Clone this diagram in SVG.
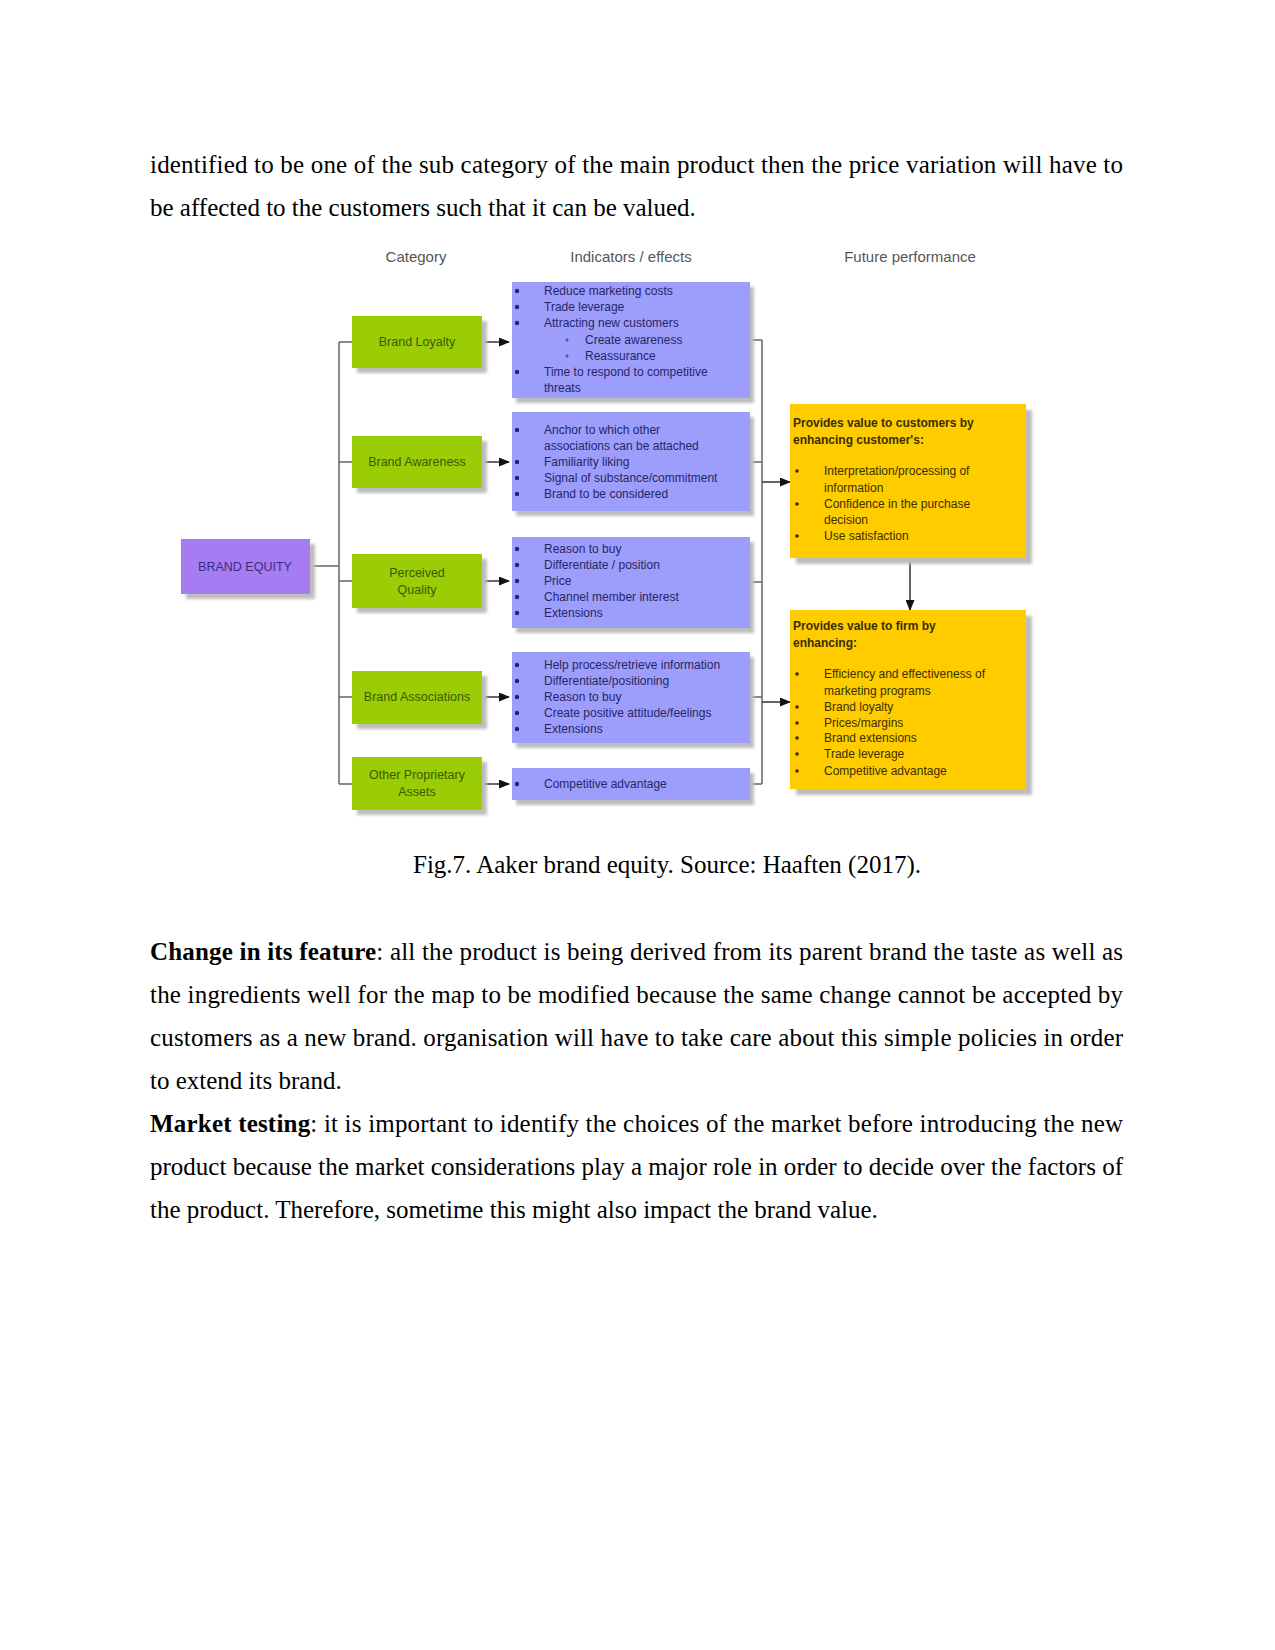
<svg xmlns="http://www.w3.org/2000/svg" width="1275" height="1650" viewBox="0 0 1275 1650">
<style>
.body{font-family:"Liberation Serif",serif;font-size:25px;fill:#000}
.b{font-weight:bold}
.hdr{font-family:"Liberation Sans",Arial,sans-serif;font-size:15px;fill:#555;text-anchor:middle}
.gt{font-family:"Liberation Sans",Arial,sans-serif;font-size:12.5px;fill:#3d5a00;text-anchor:middle}
.bt{font-family:"Liberation Sans",Arial,sans-serif;font-size:12px;fill:#262666}
.yt{font-family:"Liberation Sans",Arial,sans-serif;font-size:12px;fill:#3a2f00}
.yb{font-weight:bold}
.et{font-family:"Liberation Sans",Arial,sans-serif;font-size:12.5px;fill:#3a2d80;text-anchor:middle}
.sh{fill:#bdbdbd;filter:url(#blur)}
.green{fill:#9acd06}
.blue{fill:#9d9dfb}
.yellow{fill:#ffcc00}
.purple{fill:#a57cf2}
.ln{fill:none;stroke:#666;stroke-width:1.5}
.ar{fill:none;stroke:#333;stroke-width:1.5;marker-end:url(#ah)}
.bd{fill:#262666}
.yd{fill:#3a2f00}
</style>
<defs>
<filter id="blur" x="-10%" y="-10%" width="120%" height="120%"><feGaussianBlur stdDeviation="1.5"/></filter>
<marker id="ah" markerUnits="userSpaceOnUse" markerWidth="11" markerHeight="9" refX="10" refY="4.5" orient="auto"><path d="M0,0 L11,4.5 L0,9 z" fill="#111"/></marker>
</defs>
<rect width="1275" height="1650" fill="#fff"/>

<g id="text-top">
<text class="body" x="150" y="173" textLength="973" lengthAdjust="spacing">identified to be one of the sub category of the main product then the price variation will have to</text>
<text class="body" x="150" y="216">be affected to the customers such that it can be valued.</text>
</g>

<g id="headers">
<text class="hdr" x="416" y="262">Category</text>
<text class="hdr" x="631" y="262">Indicators / effects</text>
<text class="hdr" x="910" y="262">Future performance</text>
</g>

<g id="connectors">
<path class="ln" d="M310,566 H339 M339,342 V784 M339,342 H352 M339,462 H352 M339,581 H352 M339,697 H352 M339,784 H352"/>
<path class="ar" d="M482,342 H509"/>
<path class="ar" d="M482,462 H509"/>
<path class="ar" d="M482,581 H509"/>
<path class="ar" d="M482,697 H509"/>
<path class="ar" d="M482,784 H509"/>
<path class="ln" d="M750,340 H762 M750,462 H762 M750,582 H762 M750,697 H762 M750,784 H762 M762,340 V784"/>
<path class="ar" d="M762,482 H790"/>
<path class="ar" d="M762,702 H790"/>
<path class="ar" d="M910,558 V610"/>
</g>

<g id="brand-equity">
<rect class="sh" x="186" y="544" width="129" height="55"/>
<rect class="purple" x="181" y="539" width="129" height="55"/>
<text class="et" x="245" y="571">BRAND EQUITY</text>
</g>

<g id="brand-loyalty">
<rect class="sh" x="357" y="321" width="130" height="52"/>
<rect class="green" x="352" y="316" width="130" height="52"/>
<text class="gt" x="417" y="346">Brand Loyalty</text>
</g>
<g id="brand-awareness">
<rect class="sh" x="357" y="441" width="130" height="52"/>
<rect class="green" x="352" y="436" width="130" height="52"/>
<text class="gt" x="417" y="466">Brand Awareness</text>
</g>
<g id="perceived-quality">
<rect class="sh" x="357" y="559" width="130" height="54"/>
<rect class="green" x="352" y="554" width="130" height="54"/>
<text class="gt" x="417" y="577">Perceived</text>
<text class="gt" x="417" y="594">Quality</text>
</g>
<g id="brand-associations">
<rect class="sh" x="357" y="676" width="130" height="53"/>
<rect class="green" x="352" y="671" width="130" height="53"/>
<text class="gt" x="417" y="701">Brand Associations</text>
</g>
<g id="other-assets">
<rect class="sh" x="357" y="762" width="130" height="53"/>
<rect class="green" x="352" y="757" width="130" height="53"/>
<text class="gt" x="417" y="779">Other Proprietary</text>
<text class="gt" x="417" y="796">Assets</text>
</g>

<g id="ind-loyalty">
<rect class="sh" x="516" y="287" width="238" height="116"/>
<rect class="blue" x="512" y="282" width="238" height="116"/>
<g class="bd"><circle cx="517" cy="291" r="2.2"/><circle cx="517" cy="307" r="2.2"/><circle cx="517" cy="323" r="2.2"/><circle cx="517" cy="372" r="2.2"/></g>
<g fill="#55558a"><circle cx="567" cy="340" r="1.5"/><circle cx="567" cy="356" r="1.5"/></g>
<text class="bt" x="544" y="295">Reduce marketing costs</text>
<text class="bt" x="544" y="311">Trade leverage</text>
<text class="bt" x="544" y="327">Attracting new customers</text>
<text class="bt" x="585" y="344">Create awareness</text>
<text class="bt" x="585" y="360">Reassurance</text>
<text class="bt" x="544" y="376">Time to respond to competitive</text>
<text class="bt" x="544" y="392">threats</text>
</g>

<g id="ind-awareness">
<rect class="sh" x="516" y="417" width="238" height="99"/>
<rect class="blue" x="512" y="412" width="238" height="99"/>
<g class="bd"><circle cx="517" cy="430" r="2.2"/><circle cx="517" cy="462" r="2.2"/><circle cx="517" cy="478" r="2.2"/><circle cx="517" cy="494" r="2.2"/></g>
<text class="bt" x="544" y="434">Anchor to which other</text>
<text class="bt" x="544" y="450">associations can be attached</text>
<text class="bt" x="544" y="466">Familiarity liking</text>
<text class="bt" x="544" y="482">Signal of substance/commitment</text>
<text class="bt" x="544" y="498">Brand to be considered</text>
</g>

<g id="ind-quality">
<rect class="sh" x="516" y="542" width="238" height="91"/>
<rect class="blue" x="512" y="537" width="238" height="91"/>
<g class="bd"><circle cx="517" cy="549" r="2.2"/><circle cx="517" cy="565" r="2.2"/><circle cx="517" cy="581" r="2.2"/><circle cx="517" cy="597" r="2.2"/><circle cx="517" cy="613" r="2.2"/></g>
<text class="bt" x="544" y="553">Reason to buy</text>
<text class="bt" x="544" y="569">Differentiate / position</text>
<text class="bt" x="544" y="585">Price</text>
<text class="bt" x="544" y="601">Channel member interest</text>
<text class="bt" x="544" y="617">Extensions</text>
</g>

<g id="ind-associations">
<rect class="sh" x="516" y="657" width="238" height="91"/>
<rect class="blue" x="512" y="652" width="238" height="91"/>
<g class="bd"><circle cx="517" cy="665" r="2.2"/><circle cx="517" cy="681" r="2.2"/><circle cx="517" cy="697" r="2.2"/><circle cx="517" cy="713" r="2.2"/><circle cx="517" cy="729" r="2.2"/></g>
<text class="bt" x="544" y="669">Help process/retrieve information</text>
<text class="bt" x="544" y="685">Differentiate/positioning</text>
<text class="bt" x="544" y="701">Reason to buy</text>
<text class="bt" x="544" y="717">Create positive attitude/feelings</text>
<text class="bt" x="544" y="733">Extensions</text>
</g>

<g id="ind-assets">
<rect class="sh" x="516" y="773" width="238" height="32"/>
<rect class="blue" x="512" y="768" width="238" height="32"/>
<circle class="bd" cx="517" cy="784" r="2.2"/>
<text class="bt" x="544" y="788">Competitive advantage</text>
</g>

<g id="value-customers">
<rect class="sh" x="796" y="410" width="236" height="154"/>
<rect class="yellow" x="790" y="404" width="236" height="154"/>
<text class="yt yb" x="793" y="427">Provides value to customers by</text>
<text class="yt yb" x="793" y="444">enhancing customer's:</text>
<g class="yd"><circle cx="797" cy="471" r="1.8"/><circle cx="797" cy="504" r="1.8"/><circle cx="797" cy="536" r="1.8"/></g>
<text class="yt" x="824" y="475">Interpretation/processing of</text>
<text class="yt" x="824" y="492">information</text>
<text class="yt" x="824" y="508">Confidence in the purchase</text>
<text class="yt" x="824" y="524">decision</text>
<text class="yt" x="824" y="540">Use satisfaction</text>
</g>

<g id="value-firm">
<rect class="sh" x="796" y="616" width="236" height="179"/>
<rect class="yellow" x="790" y="610" width="236" height="179"/>
<text class="yt yb" x="793" y="630">Provides value to firm by</text>
<text class="yt yb" x="793" y="647">enhancing:</text>
<g class="yd"><circle cx="797" cy="674" r="1.8"/><circle cx="797" cy="707" r="1.8"/><circle cx="797" cy="723" r="1.8"/><circle cx="797" cy="738" r="1.8"/><circle cx="797" cy="754" r="1.8"/><circle cx="797" cy="771" r="1.8"/></g>
<text class="yt" x="824" y="678">Efficiency and effectiveness of</text>
<text class="yt" x="824" y="695">marketing programs</text>
<text class="yt" x="824" y="711">Brand loyalty</text>
<text class="yt" x="824" y="727">Prices/margins</text>
<text class="yt" x="824" y="742">Brand extensions</text>
<text class="yt" x="824" y="758">Trade leverage</text>
<text class="yt" x="824" y="775">Competitive advantage</text>
</g>

<g id="caption">
<text class="body" x="413" y="873">Fig.7. Aaker brand equity. Source: Haaften (2017).</text>
</g>

<g id="text-bottom">
<text class="body" x="150" y="960" textLength="973" lengthAdjust="spacing"><tspan class="b">Change in its feature</tspan>: all the product is being derived from its parent brand the taste as well as</text>
<text class="body" x="150" y="1003" textLength="973" lengthAdjust="spacing">the ingredients well for the map to be modified because the same change cannot be accepted by</text>
<text class="body" x="150" y="1046" textLength="973" lengthAdjust="spacing">customers as a new brand. organisation will have to take care about this simple policies in order</text>
<text class="body" x="150" y="1089">to extend its brand.</text>
<text class="body" x="150" y="1132" textLength="973" lengthAdjust="spacing"><tspan class="b">Market testing</tspan>: it is important to identify the choices of the market before introducing the new</text>
<text class="body" x="150" y="1175" textLength="973" lengthAdjust="spacing">product because the market considerations play a major role in order to decide over the factors of</text>
<text class="body" x="150" y="1218">the product. Therefore, sometime this might also impact the brand value.</text>
</g>
</svg>
